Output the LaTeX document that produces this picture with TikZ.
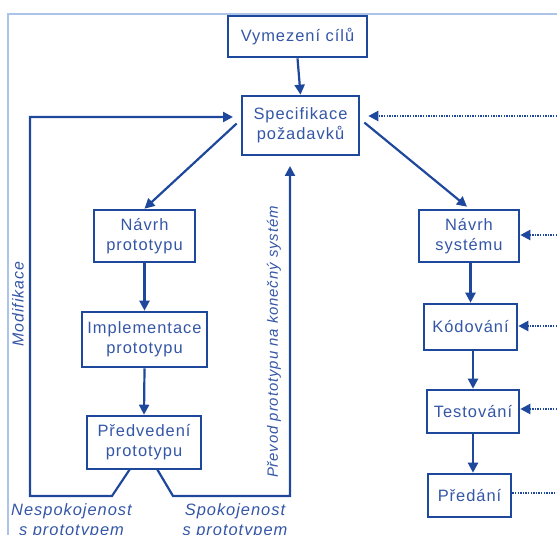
\documentclass[tikz,border=0pt]{standalone}
\usepackage{fontspec}
\setmainfont{Liberation Sans}[LetterSpace=6]
\usetikzlibrary{arrows.meta,calc}
\definecolor{linec}{RGB}{30,72,156}
\definecolor{textc}{RGB}{52,86,166}
\definecolor{framec}{RGB}{172,196,232}
\begin{document}
\begin{tikzpicture}[x=1bp,y=-1bp,
  box/.style={draw=linec,line width=2.6bp,inner sep=0pt,align=center,
    text=textc,font=\fontsize{16.5}{20}\selectfont},
  arr/.style={draw=linec,line width=2.2bp,-{Triangle[length=10bp,width=10bp]}},
  link/.style={draw=linec,line width=2.2bp},
  dots/.style={draw=linec,line width=2.2bp,dash pattern=on 1.4bp off 1.2bp},
  dotarr/.style={dots,-{Triangle[length=10bp,width=10bp]}},
  lbl/.style={text=textc,inner sep=0pt,align=center,
    font=\itshape\fontsize{16.5}{20}\selectfont}]
\useasboundingbox (0,0) rectangle (557,535);
% outer frame
\draw[framec,line width=1.6bp] (8,535) -- (8,14) -- (557,14);

% boxes
\node[box,minimum width=139bp,minimum height=41bp] (goals) at (297.5,36.5) {Vymezení cílů};
\node[box,minimum width=117bp,minimum height=59bp] (spec) at (300.5,125.5) {Specifikace\\požadavků};
\node[box,minimum width=101bp,minimum height=52bp] (nproto) at (144.5,236) {Návrh\\prototypu};
\node[box,minimum width=125bp,minimum height=55bp] (impl) at (144.5,339.5) {Implementace\\prototypu};
\node[box,minimum width=114bp,minimum height=53bp] (demo) at (144,442.5) {Předvedení\\prototypu};
\node[box,minimum width=100bp,minimum height=52bp] (nsys) at (469,236) {Návrh\\systému};
\node[box,minimum width=93bp,minimum height=46bp] (kod) at (470.5,327) {Kódování};
\node[box,minimum width=92bp,minimum height=43bp] (test) at (473,411.5) {Testování};
\node[box,minimum width=83bp,minimum height=43bp] (pred) at (469.5,495.5) {Předání};

% free ends of the connectors
\coordinate (modA) at (130,469);
\coordinate (modB) at (112,496);
\coordinate (modC) at (30,496);
\coordinate (modD) at (30,117);
\coordinate (modE) at (233,117);
\coordinate (spoA) at (157,469);
\coordinate (spoB) at (173,496);
\coordinate (spoC) at (290,496);
\coordinate (spoD) at (290,166);
\coordinate (rSpec) at (557,116);
\coordinate (rSys) at (557,235);
\coordinate (rKod) at (557,326);
\coordinate (rTest) at (557,409);
\coordinate (rPred) at (557,493);

% main flow
\draw[arr] (goals.south) -- (spec.north);
\draw[arr] ($(spec.west)+(-4,-2)$) -- (nproto.north);
\draw[arr] ($(spec.east)+(4,-3)$) -- ($(nsys.north)+(-2,-2)$);
\draw[arr] (nproto.south) -- (impl.north);
\draw[arr] (impl.south) -- (demo.north);
\draw[arr] (kod.north |- nsys.south) -- (kod.north);
\draw[arr] (test.north |- kod.south) -- (test.north);
\draw[arr] (test.south) -- (test.south |- pred.north);

% feedback loops from the demonstration
\draw[arr,line join=miter] (modA) -- (modB) -- (modC) -- (modD) -- (modE);
\draw[arr,line join=miter] (spoA) -- (spoB) -- (spoC) -- (spoD);

% dotted links at the right edge
\draw[dotarr] (rSpec) -- ($(spec.east)+(8,-9.5)$);
\draw[dotarr] (rSys) -- (rSys -| nsys.east);
\draw[dotarr] (rKod) -- (rKod -| kod.east);
\draw[dotarr] (rTest) -- (rTest -| test.east);
\draw[dots] (rPred -| pred.east) -- (rPred);

% labels
\node[lbl,rotate=90,font=\itshape\fontsize{16}{20}\selectfont] (lmod) at (18,304) {Modifikace};
\node[lbl,rotate=90,font=\itshape\fontsize{15}{18}\selectfont] (lconv) at (274,342) {Převod prototypu na konečný systém};
\node[lbl] (lnes) at (71.5,521) {Nespokojenost\\s prototypem};
\node[lbl] (lspo) at (235,521) {Spokojenost\\s prototypem};
\end{tikzpicture}
\end{document}
